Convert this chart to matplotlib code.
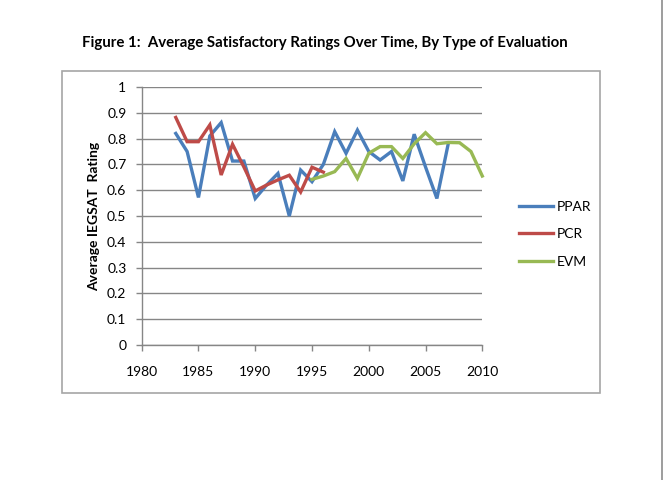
import numpy as np
import matplotlib
matplotlib.use("Agg")
import matplotlib.pyplot as plt
from matplotlib.lines import Line2D
from matplotlib.patches import Rectangle

plt.rcParams['font.family'] = ['Lato', 'DejaVu Sans']

nan = np.nan
years = list(range(1983, 2011))
ppar = [0.82, 0.75, 0.572, 0.81, 0.862, 0.713, 0.713, 0.568, 0.62, 0.665,
        0.50, 0.678, 0.633, 0.70, 0.827, 0.743, 0.833, 0.75, 0.717, 0.75,
        0.636, 0.817, 0.69, 0.568, 0.78, nan, nan, nan]
pcr = [0.882, 0.788, 0.788, 0.853, 0.659, 0.778, 0.69, 0.597, 0.62, 0.64,
       0.658, 0.593, 0.689, 0.67, nan, nan, nan, nan, nan, nan,
       nan, nan, nan, nan, nan, nan, nan, nan]
evm = [nan, nan, nan, nan, nan, nan, nan, nan, nan, nan,
       nan, nan, 0.642, 0.655, 0.672, 0.723, 0.646, 0.743, 0.769, 0.769,
       0.723, 0.78, 0.823, 0.78, 0.785, 0.784, 0.75, 0.655]
series_names = ["PPAR", "PCR", "EVM"]
colors = ["#4A7EBB", "#BE4B48", "#98B954"]
xticks = [1980, 1985, 1990, 1995, 2000, 2005, 2010]
yticks = [0, 0.1, 0.2, 0.3, 0.4, 0.5, 0.6, 0.7, 0.8, 0.9, 1]

W, H = 667, 480
fig = plt.figure(figsize=(W / 100, H / 100), dpi=100)

# outer chart border
fig.patches.append(Rectangle((61.7 / W, 1 - 393 / H), (600 - 61.7) / W, (393 - 71) / H,
                             transform=fig.transFigure, fill=False,
                             edgecolor="#A6A6A6", linewidth=1.2))
# page edge line on the right
fig.lines.append(Line2D([661.7 / W, 661.7 / W], [0, 1], transform=fig.transFigure,
                        color="#8C8C8C", linewidth=1.2))

ax = fig.add_axes([141.7 / W, 1 - 345 / H, (482.3 - 141.7) / W, (345 - 87) / H])

for vals, name, c in zip([ppar, pcr, evm], series_names, colors):
    ax.plot(years, vals, color=c, linewidth=2.4, label=name,
            solid_joinstyle="miter", clip_on=False)

ax.set_xlim(1980, 2010)
ax.set_ylim(0, 1)
ax.set_xticks(xticks)
ax.set_yticks(yticks)
ax.set_yticklabels([f"{v:g}" for v in yticks])
ax.yaxis.grid(True, color="#868686", linewidth=1.0)
ax.set_axisbelow(True)
for s in ["top", "right"]:
    ax.spines[s].set_visible(False)
for s in ["left", "bottom"]:
    ax.spines[s].set_color("#868686")
    ax.spines[s].set_linewidth(1.0)
ax.tick_params(axis="both", colors="#868686", labelcolor="black", labelsize=10,
               length=4, width=1.0)
ax.tick_params(axis="x", pad=11)
ax.tick_params(axis="y", pad=7)

ax.set_ylabel("Average IEGSAT  Rating", fontsize=10, fontweight="bold", labelpad=5)

fig.text(325 / W, 1 - 43 / H, "Figure 1:  Average Satisfactory Ratings Over Time, By Type of Evaluation",
         ha="center", va="center", fontsize=10.8, fontweight="bold")

leg = fig.legend(loc="upper left", bbox_to_anchor=(513 / W, 1 - 195 / H), frameon=False,
                 fontsize=10, handlelength=2.5, handletextpad=0.25, labelspacing=1.12,
                 borderaxespad=0)

fig.savefig("out.png", dpi=100)
